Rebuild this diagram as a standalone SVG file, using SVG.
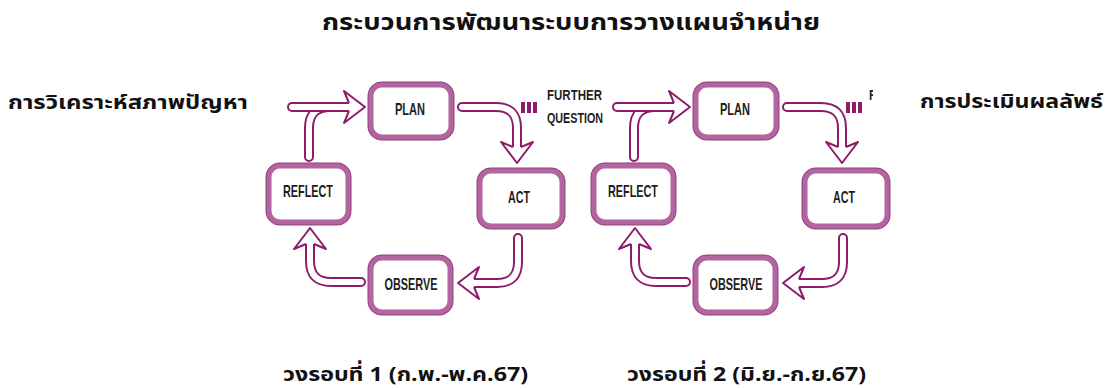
<svg xmlns="http://www.w3.org/2000/svg" xmlns:xlink="http://www.w3.org/1999/xlink" width="1111" height="389" viewBox="0 0 1111 389">
<style>
.box{fill:#fff;stroke:#b2659f;stroke-width:5}
.boxo{fill:none;stroke:#93407f;stroke-width:7}
.lbl{font-family:"Liberation Sans",Arial,sans-serif;font-weight:bold;font-size:17px;fill:#1e1e1e;text-anchor:middle}
.fq{font-family:"Liberation Sans",Arial,sans-serif;font-weight:bold;font-size:14px;fill:#1e1e1e}
.th{font-family:Tahoma,"Noto Sans Thai","Noto Sans","DejaVu Sans",sans-serif;font-weight:bold;fill:#111}
.sd{fill:none;stroke:#8c1c6c;stroke-width:10;stroke-linecap:round}
.sw{fill:none;stroke:#fff;stroke-width:6;stroke-linecap:round}
.ah{fill:#fff;stroke:#8c1c6c;stroke-width:2;stroke-linejoin:round}
.mk{fill:#8c1c6c}
</style>
<defs>
<path id="ah" class="ah" d="M-16,-4 L-21,-16 L0,0 L-21,16 L-16,4"/>
<clipPath id="cut"><rect x="867" y="80" width="6" height="40"/></clipPath>
</defs>
<rect width="1111" height="389" fill="#fff"/>

<g id="title"><text class="th" x="322" y="30" font-size="23" textLength="498" lengthAdjust="spacingAndGlyphs">กระบวนการพัฒนาระบบการวางแผนจำหน่าย</text></g>
<g id="label-analysis"><text class="th" x="8" y="109" font-size="20" textLength="240" lengthAdjust="spacingAndGlyphs">การวิเคราะห์สภาพปัญหา</text></g>
<g id="label-evaluation"><text class="th" x="920" y="108" font-size="20" textLength="183" lengthAdjust="spacingAndGlyphs">การประเมินผลลัพธ์</text></g>
<g id="label-cycle1"><text class="th" x="283" y="381" font-size="20" textLength="245" lengthAdjust="spacingAndGlyphs">วงรอบที่ 1 (ก.พ.-พ.ค.67)</text></g>
<g id="label-cycle2"><text class="th" x="627" y="381" font-size="20" textLength="239" lengthAdjust="spacingAndGlyphs">วงรอบที่ 2 (มิ.ย.-ก.ย.67)</text></g>

<g id="connectors">
  <!-- cycle 1 -->
  <path class="sd" d="M309,157 L309,128 Q309,107 330,107"/>
  <path class="sw" d="M309,157 L309,128 Q309,107 330,107"/>
  <path class="sd" d="M292,107 L351,107"/>
  <path class="sw" d="M292,107 L351,107"/>
  <path class="sd" d="M462,107 L496,107 Q517,107 517,128 L517,149"/>
  <path class="sw" d="M462,107 L496,107 Q517,107 517,128 L517,149"/>
  <path class="sd" d="M518,238 L518,262 Q518,283 497,283 L472,283"/>
  <path class="sw" d="M518,238 L518,262 Q518,283 497,283 L472,283"/>
  <path class="sd" d="M361,282 L331,282 Q310,282 310,261 L310,242"/>
  <path class="sw" d="M361,282 L331,282 Q310,282 310,261 L310,242"/>
  <use xlink:href="#ah" transform="translate(365,107)"/>
  <use xlink:href="#ah" transform="translate(517,163) rotate(90)"/>
  <use xlink:href="#ah" transform="translate(458,283) rotate(180)"/>
  <use xlink:href="#ah" transform="translate(310,228) rotate(-90)"/>
  <!-- cycle 2 -->
  <path class="sd" d="M634,157 L634,128 Q634,107 655,107"/>
  <path class="sw" d="M634,157 L634,128 Q634,107 655,107"/>
  <path class="sd" d="M617,107 L676,107"/>
  <path class="sw" d="M617,107 L676,107"/>
  <path class="sd" d="M787,107 L821,107 Q842,107 842,128 L842,149"/>
  <path class="sw" d="M787,107 L821,107 Q842,107 842,128 L842,149"/>
  <path class="sd" d="M843,238 L843,262 Q843,283 822,283 L797,283"/>
  <path class="sw" d="M843,238 L843,262 Q843,283 822,283 L797,283"/>
  <path class="sd" d="M686,282 L656,282 Q635,282 635,261 L635,242"/>
  <path class="sw" d="M686,282 L656,282 Q635,282 635,261 L635,242"/>
  <use xlink:href="#ah" transform="translate(690,107)"/>
  <use xlink:href="#ah" transform="translate(842,163) rotate(90)"/>
  <use xlink:href="#ah" transform="translate(783,283) rotate(180)"/>
  <use xlink:href="#ah" transform="translate(635,228) rotate(-90)"/>
</g>

<g id="further-question-1">
  <rect class="mk" x="521" y="102" width="4" height="11"/>
  <rect class="mk" x="527" y="102" width="4" height="11"/>
  <rect class="mk" x="533" y="102" width="4" height="11"/>
  <text class="fq" x="547" y="100" textLength="55" lengthAdjust="spacingAndGlyphs">FURTHER</text>
  <text class="fq" x="547" y="123" textLength="56" lengthAdjust="spacingAndGlyphs">QUESTION</text>
</g>
<g id="further-question-2">
  <rect class="mk" x="846" y="102" width="4" height="11"/>
  <rect class="mk" x="852" y="102" width="4" height="11"/>
  <rect class="mk" x="858" y="102" width="4" height="11"/>
  <text class="fq" x="869" y="100" textLength="7" lengthAdjust="spacingAndGlyphs" clip-path="url(#cut)">F</text>
</g>

<g id="plan1"><rect class="boxo" x="371" y="85" width="80" height="52" rx="11"/><rect class="box" x="371" y="85" width="80" height="52" rx="11"/><text class="lbl" x="410" y="115" textLength="30" lengthAdjust="spacingAndGlyphs">PLAN</text></g>
<g id="reflect1"><rect class="boxo" x="269" y="166" width="79" height="56" rx="11"/><rect class="box" x="269" y="166" width="79" height="56" rx="11"/><text class="lbl" x="308" y="197" textLength="50" lengthAdjust="spacingAndGlyphs">REFLECT</text></g>
<g id="act1"><rect class="boxo" x="480" y="171" width="82" height="55" rx="11"/><rect class="box" x="480" y="171" width="82" height="55" rx="11"/><text class="lbl" x="519" y="203" textLength="22" lengthAdjust="spacingAndGlyphs">ACT</text></g>
<g id="observe1"><rect class="boxo" x="371" y="258" width="79" height="54" rx="11"/><rect class="box" x="371" y="258" width="79" height="54" rx="11"/><text class="lbl" x="411" y="290" textLength="53" lengthAdjust="spacingAndGlyphs">OBSERVE</text></g>

<g id="plan2"><rect class="boxo" x="696" y="85" width="80" height="52" rx="11"/><rect class="box" x="696" y="85" width="80" height="52" rx="11"/><text class="lbl" x="735" y="115" textLength="30" lengthAdjust="spacingAndGlyphs">PLAN</text></g>
<g id="reflect2"><rect class="boxo" x="594" y="166" width="79" height="56" rx="11"/><rect class="box" x="594" y="166" width="79" height="56" rx="11"/><text class="lbl" x="633" y="197" textLength="50" lengthAdjust="spacingAndGlyphs">REFLECT</text></g>
<g id="act2"><rect class="boxo" x="805" y="171" width="82" height="55" rx="11"/><rect class="box" x="805" y="171" width="82" height="55" rx="11"/><text class="lbl" x="844" y="203" textLength="22" lengthAdjust="spacingAndGlyphs">ACT</text></g>
<g id="observe2"><rect class="boxo" x="696" y="258" width="79" height="54" rx="11"/><rect class="box" x="696" y="258" width="79" height="54" rx="11"/><text class="lbl" x="736" y="290" textLength="53" lengthAdjust="spacingAndGlyphs">OBSERVE</text></g>
</svg>
